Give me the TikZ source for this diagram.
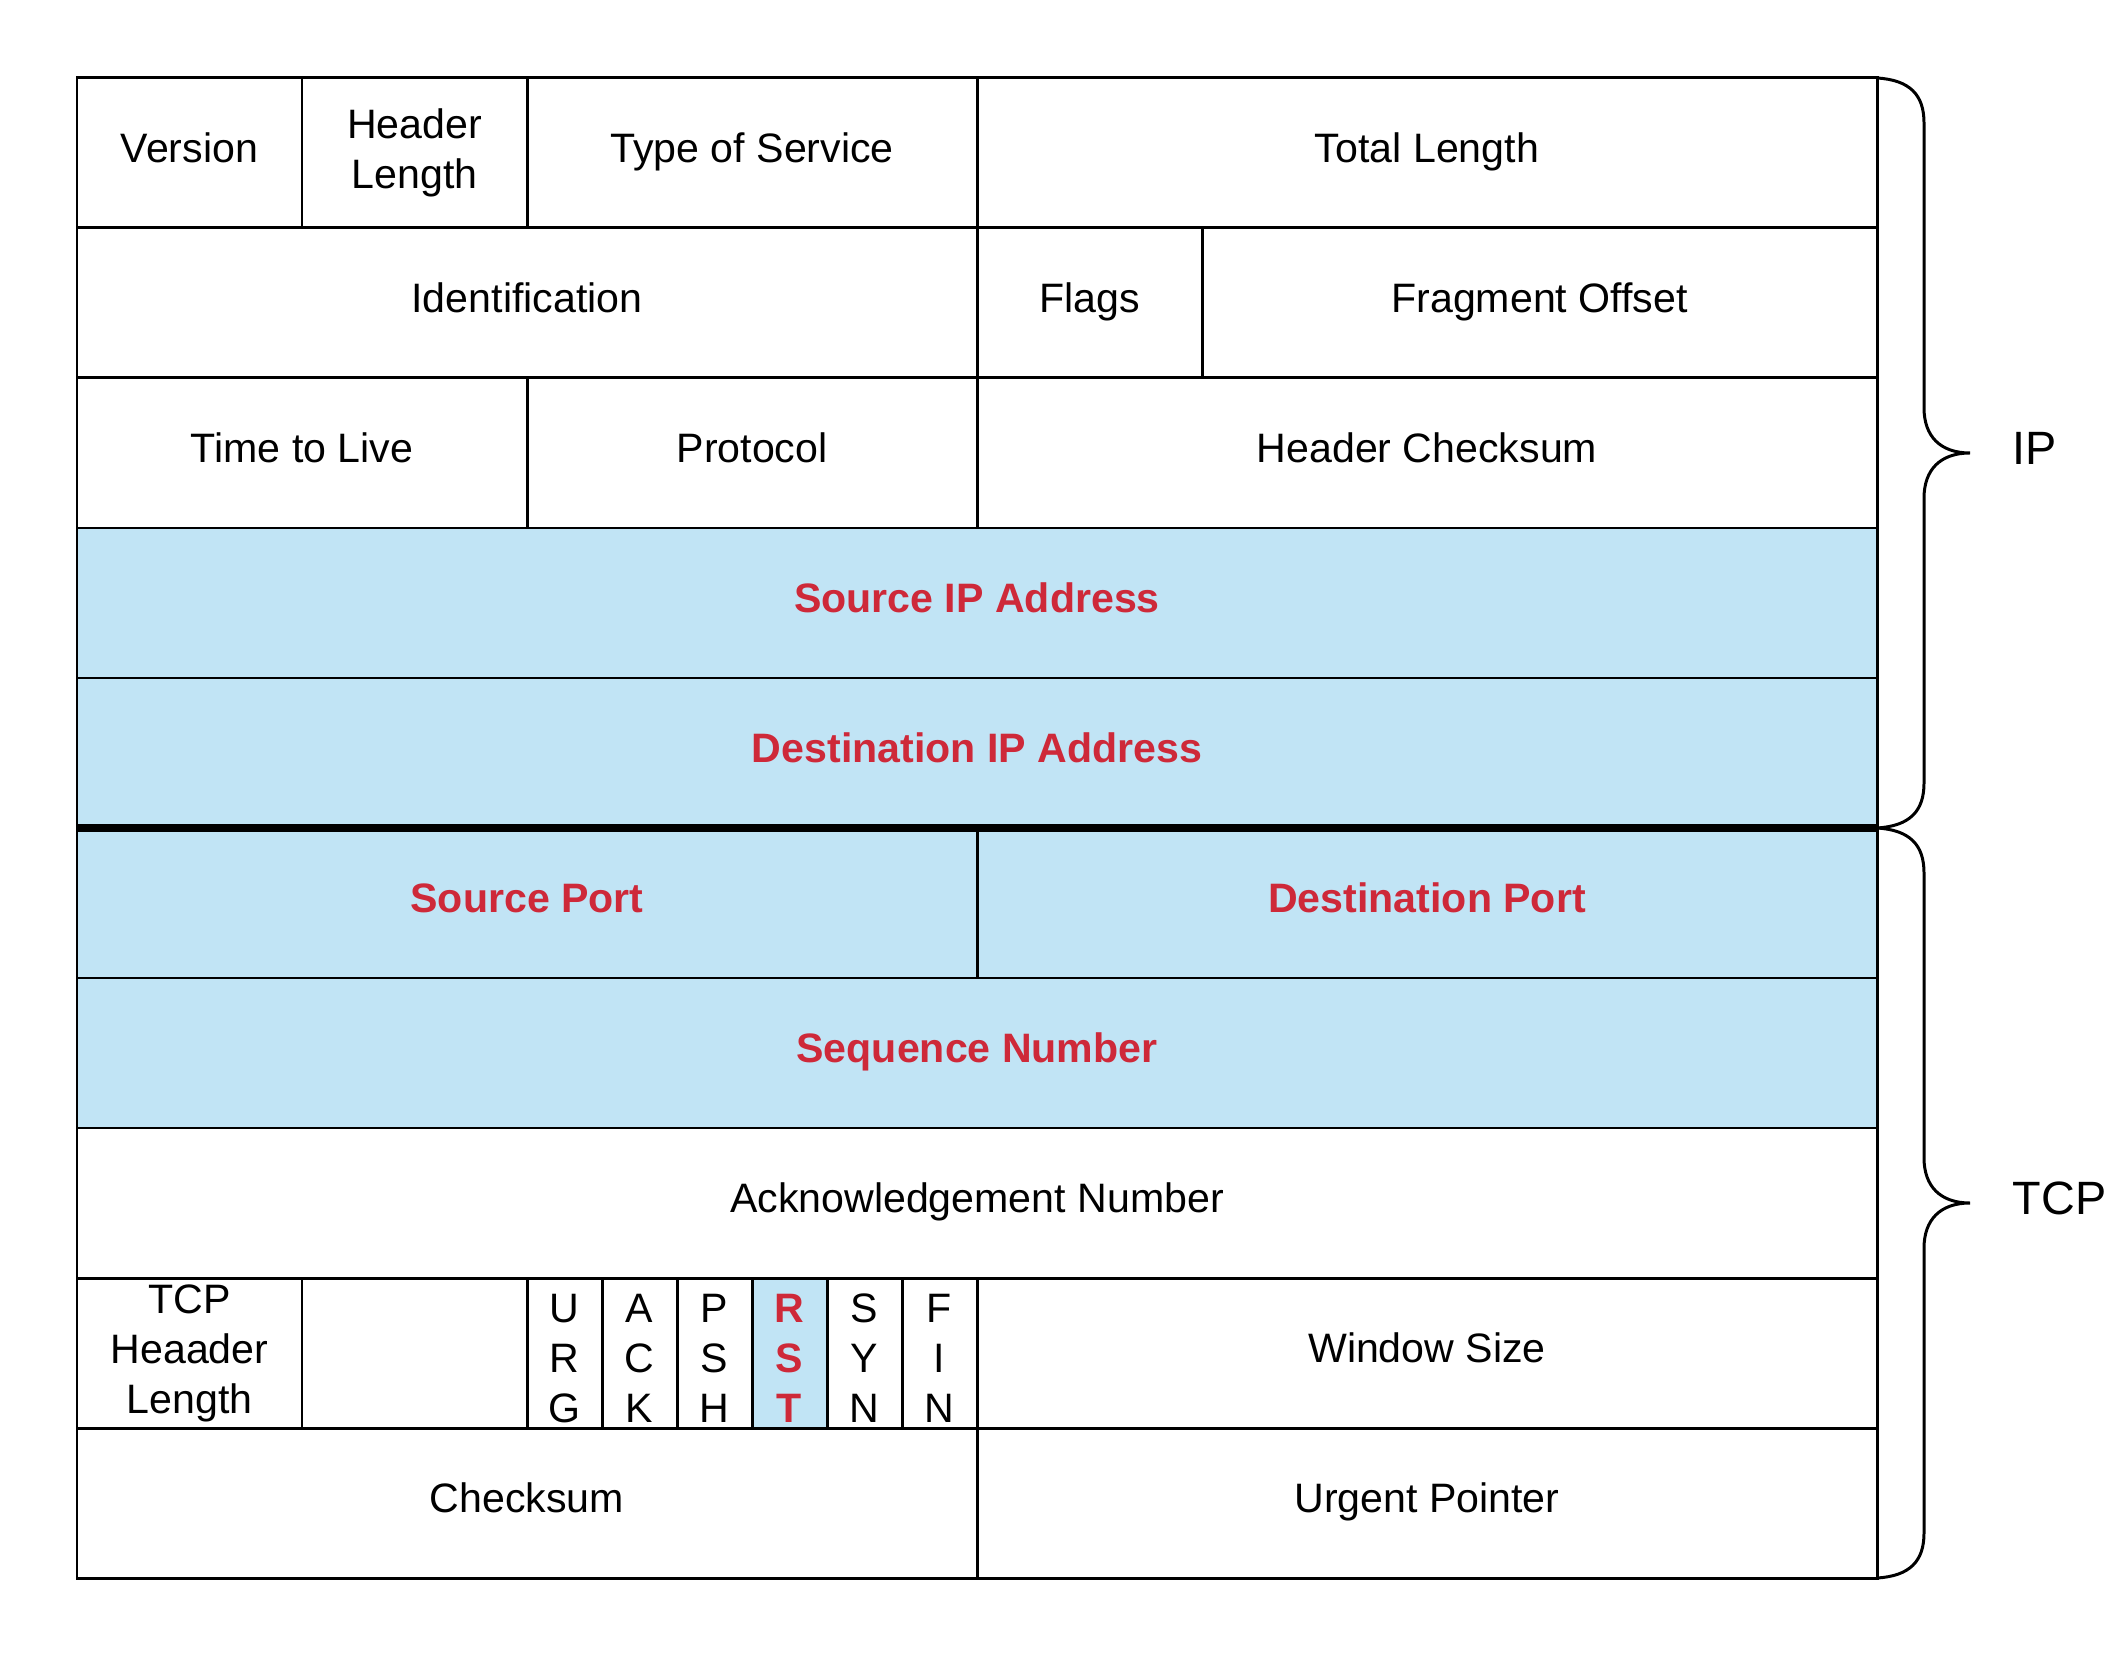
\documentclass[tikz,border=0pt]{standalone}
\usepackage{fontspec}
\setmainfont{Liberation Sans}
\usetikzlibrary{positioning, calc}
\usepackage{xcolor}
\definecolor{keyblue}{RGB}{193, 228, 245}
\definecolor{keyred}{RGB}{206, 41, 57}

\tikzset{
  box/.style={draw, line width=0.85pt, inner sep=0pt, outer sep=0pt,
              minimum height=1.5cm, anchor=north west, align=center,
              font=\fontsize{11.7}{14.2}\selectfont},
  cell/.style={box, text height=9.9pt, text depth=4.3pt},
  keycell/.style={cell, fill=keyblue, text=keyred,
                  font=\fontsize{11.7}{14.2}\selectfont\bfseries},
  flagcell/.style={box, minimum width=0.75cm},
  bracelabel/.style={anchor=west, inner sep=0pt, font=\fontsize{13.3}{16}\selectfont},
}

\begin{document}
\begin{tikzpicture}[y=-1cm]
        \useasboundingbox (0,0) rectangle (21.08,16.58);
        % IP header
        \node[cell, minimum width=2.25cm] (ver) at (0.77,0.78) {Version};
        \node[box, minimum width=2.25cm] (hlen) at (ver.north east) {Header\\Length};
        \node[cell, minimum width=4.5cm] (tos) at (hlen.north east) {Type of Service};
        \node[cell, minimum width=9cm] (totlen) at (tos.north east) {Total Length};
        \node[cell, minimum width=9cm] (ident) at (ver.south west) {Identification};
        \node[cell, minimum width=2.25cm] (ipflags) at (ident.north east) {Flags};
        \node[cell, minimum width=6.75cm] (fragoff) at (ipflags.north east) {Fragment Offset};
        \node[cell, minimum width=4.5cm] (ttl) at (ident.south west) {Time to Live};
        \node[cell, minimum width=4.5cm] (proto) at (ttl.north east) {Protocol};
        \node[cell, minimum width=9cm] (hcheck) at (proto.north east) {Header Checksum};
        \node[keycell, minimum width=18cm] (srcip) at (ttl.south west) {Source IP Address};
        \node[keycell, minimum width=18cm] (dstip) at (srcip.south west) {Destination IP Address};
        % TCP header
        \node[keycell, minimum width=9cm] (srcport) at (dstip.south west) {Source Port};
        \node[keycell, minimum width=9cm] (dstport) at (srcport.north east) {Destination Port};
        \node[keycell, minimum width=18cm] (seqnum) at (srcport.south west) {Sequence Number};
        \node[cell, minimum width=18cm] (acknum) at (seqnum.south west) {Acknowledgement Number};
        \node[box, minimum width=2.25cm] (tcphlen) at (acknum.south west) {TCP\\Heaader\\Length};
        \node[box, minimum width=2.25cm] (resv) at (tcphlen.north east) {};
        \node[flagcell] (urg) at (resv.north east) {\rule{0pt}{11pt}U\\R\\G};
        \node[flagcell] (ack) at (urg.north east) {\rule{0pt}{11pt}A\\C\\K};
        \node[flagcell] (psh) at (ack.north east) {\rule{0pt}{11pt}P\\S\\H};
        \node[flagcell, fill=keyblue, text=keyred,
              font=\fontsize{11.7}{14.2}\selectfont\bfseries] (rst) at (psh.north east) {\rule{0pt}{11pt}R\\S\\T};
        \node[flagcell] (syn) at (rst.north east) {\rule{0pt}{11pt}S\\Y\\N};
        \node[flagcell] (fin) at (syn.north east) {\rule{0pt}{11pt}F\\I\\N};
        \node[cell, minimum width=9cm] (winsize) at (fin.north east) {Window Size};
        \node[cell, minimum width=9cm] (tcpcheck) at (tcphlen.south west) {Checksum};
        \node[cell, minimum width=9cm] (urgptr) at (tcpcheck.north east) {Urgent Pointer};

        % split between the two headers
        \draw[line width=2.5pt] (srcport.north west) -- (dstport.north east);

        % braces
        \draw[line width=0.85pt] (totlen.north east)
          .. controls (19.10,0.80) and (19.24,0.95) .. (19.24,1.23) -- (19.24,4.08)
          .. controls (19.24,4.36) and (19.40,4.53) .. (19.70,4.53)
          .. controls (19.40,4.53) and (19.24,4.70) .. (19.24,4.98) -- (19.24,7.83)
          .. controls (19.24,8.11) and (19.10,8.26) .. (dstip.south east);
        \draw[line width=0.85pt] (dstport.north east)
          .. controls (19.10,8.30) and (19.24,8.45) .. (19.24,8.73) -- (19.24,11.58)
          .. controls (19.24,11.86) and (19.40,12.03) .. (19.70,12.03)
          .. controls (19.40,12.03) and (19.24,12.20) .. (19.24,12.48) -- (19.24,15.33)
          .. controls (19.24,15.61) and (19.10,15.76) .. (urgptr.south east);
        \node[bracelabel] (iplabel) at (20.12,4.48) {IP};
        \node[bracelabel] (tcplabel) at (20.12,11.98) {TCP};
\end{tikzpicture}
\end{document}
